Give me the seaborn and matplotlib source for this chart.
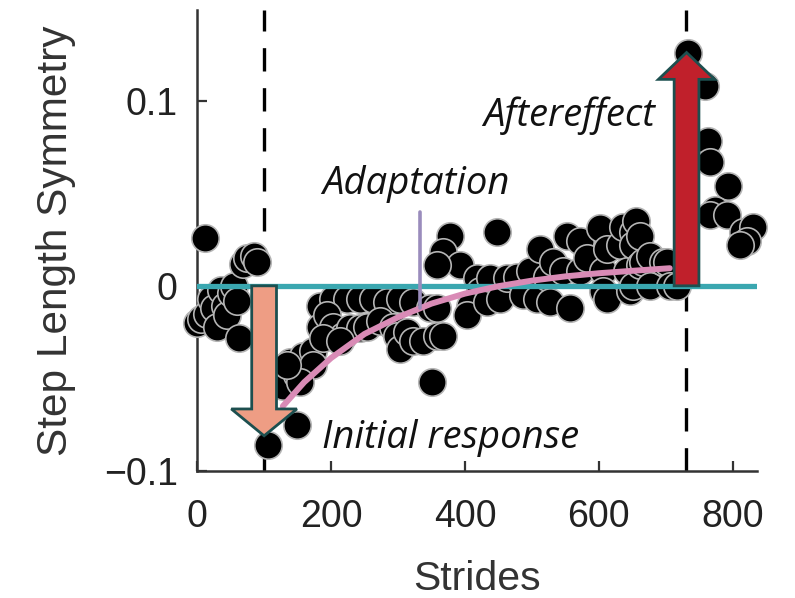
import matplotlib
matplotlib.use("Agg")
import matplotlib.pyplot as plt
import seaborn as sns
import pandas as pd

# ---- data ----
stride_x = [0, 5, 12, 15, 20, 25, 30, 35, 42, 45, 50, 55, 60, 62, 68, 75, 85, 90,
            106, 149, 124, 128, 139, 149, 158, 173, 173, 154, 134,
            184, 203, 224, 243, 263, 284, 303, 322, 348, 358,
            184, 194, 203, 218, 228, 243, 254, 273, 293, 299, 303, 314, 322, 337, 358, 367,
            188, 213, 351,
            378, 367, 393, 358, 448, 418, 423, 408, 403, 433, 437, 452, 463, 478, 487, 497,
            508, 512, 523, 527, 532, 546, 552, 557, 572, 572, 582, 602, 606, 606, 612, 612,
            632, 636, 642, 646, 651, 651, 651, 655, 661, 661, 666, 676, 676, 696, 702, 706, 717,
            733, 758, 763, 766, 793, 773, 766, 791, 815, 830, 821, 811]
symmetry = [-0.020, -0.018, 0.026, -0.015, -0.007, -0.012, -0.022, -0.002, -0.011, -0.016,
            -0.004, 0.000, -0.008, -0.028, 0.012, 0.015, 0.016, 0.013,
            -0.086, -0.075, -0.046, -0.054, -0.041, -0.048, -0.038, -0.035, -0.043, -0.052, -0.043,
            -0.011, -0.007, -0.007, -0.007, -0.007, -0.009, -0.007, -0.009, -0.012, -0.012,
            -0.022, -0.016, -0.022, -0.027, -0.023, -0.023, -0.022, -0.019, -0.022, -0.027,
            -0.034, -0.025, -0.030, -0.030, -0.027, -0.027,
            -0.028, -0.030, -0.052,
            0.027, 0.018, 0.011, 0.011, 0.029, 0.004, -0.003, -0.011, -0.016, -0.009, 0.004,
            -0.007, 0.004, 0.005, -0.005, 0.008,
            -0.007, 0.020, 0.005, -0.009, 0.013, 0.008, 0.027, -0.012, 0.024, 0.008, 0.015,
            0.031, 0.008, -0.003, 0.020, -0.007,
            0.022, 0.032, 0.008, -0.003, 0.029, 0.022, 0.000, 0.035, 0.027, 0.011, 0.013,
            0.016, 0.000, 0.013, 0.013, 0.000, 0.000,
            0.126, 0.108, 0.078, 0.067, 0.054, 0.041, 0.038, 0.038, 0.029, 0.032, 0.024, 0.022]

fit_x = [128, 160, 200, 250, 300, 350, 400, 450, 500, 550, 600, 650, 706]
fit_y = [-0.065, -0.052, -0.039, -0.026, -0.017, -0.0096, -0.0042, -0.0002, 0.0028,
         0.0051, 0.0068, 0.0081, 0.0095]

x_ticks = [0, 200, 400, 600, 800]
y_ticks = [-0.1, 0, 0.1]
y_tick_labels = ["\u22120.1", "0", "0.1"]
phase_lines = [100, 730]
initial_arrow = (100, 0.0, -0.081)      # x, start y, end y
after_arrow = (731, 0.0, 0.126)
adapt_marker = (333, 0.040, -0.012)

sns.set_style("ticks")
plt.rcParams["font.family"] = ["Liberation Sans", "DejaVu Sans"]

fig = plt.figure(figsize=(7.95, 5.98), dpi=100)
ax = fig.add_axes([0.248, 0.2124, 0.704, 0.771])

df = pd.DataFrame({"Strides": stride_x, "Symmetry": symmetry})
sns.scatterplot(data=df, x="Strides", y="Symmetry", ax=ax, s=390, color="black",
                edgecolor="#b4b4b4", linewidth=1.2, zorder=3, clip_on=False, legend=False)

ax.axhline(0, xmin=0, xmax=1, color="#3aa7b0", lw=3.8, zorder=4)
fit = pd.DataFrame({"x": fit_x, "y": fit_y})
sns.lineplot(data=fit, x="x", y="y", ax=ax, color="#d98bb6", lw=4.3, zorder=5, legend=False)

for xv in phase_lines:
    ax.axvline(xv, color="black", lw=2.4, linestyle=(0, (7, 5)), zorder=2)

ax.plot([adapt_marker[0]] * 2, [adapt_marker[1], adapt_marker[2]], color="#9a8cbc",
        lw=2.6, zorder=6)

ax.arrow(initial_arrow[0], initial_arrow[1], 0, initial_arrow[2] - initial_arrow[1],
         width=37, head_width=98, head_length=0.0145, length_includes_head=True,
         facecolor="#ee9d84", edgecolor="#1d4f4f", lw=2, zorder=7)
ax.arrow(after_arrow[0], after_arrow[1], 0, after_arrow[2] - after_arrow[1],
         width=37, head_width=84, head_length=0.0145, length_includes_head=True,
         facecolor="#c0202b", edgecolor="#1d4f4f", lw=2, zorder=7)

italic = dict(family=["Open Sans", "DejaVu Sans"], style="italic", fontsize=27.5,
              color="#111111", zorder=8)
ax.text(427, 0.092, "Aftereffect", ha="left", va="center", **italic)
ax.text(187, 0.055, "Adaptation", ha="left", va="center", **italic)
ax.text(187, -0.082, "Initial response", ha="left", va="center", **italic)

ax.set_xlim(0, 836)
ax.set_ylim(-0.1, 0.149)
ax.set_xticks(x_ticks)
ax.set_yticks(y_ticks)
ax.set_yticklabels(y_tick_labels)
ax.tick_params(direction="in", length=7, width=1.6, labelsize=27, colors="#333333",
               labelcolor="#222222", pad=14)
ax.tick_params(axis="x", pad=20)
ax.set_xlabel("Strides", fontsize=29.5, color="#333333", labelpad=18)
ax.set_ylabel("Step Length Symmetry", fontsize=30.5, color="#333333", labelpad=20)
for side in ["top", "right"]:
    ax.spines[side].set_visible(False)
for side in ["left", "bottom"]:
    ax.spines[side].set_color("#333333")
    ax.spines[side].set_linewidth(1.8)

fig.savefig("out.png", dpi=100)
